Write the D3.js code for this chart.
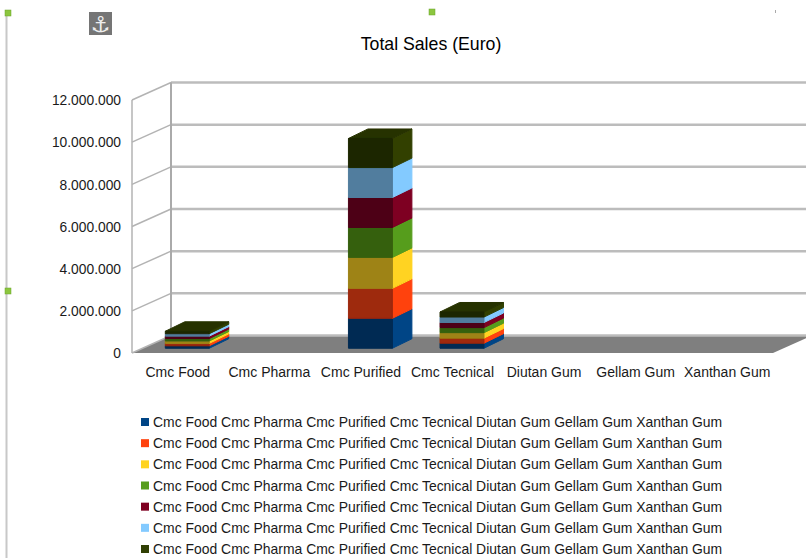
<!DOCTYPE html>
<html>
<head>
<meta charset="utf-8">
<script src="https://cdnjs.cloudflare.com/ajax/libs/d3/7.8.5/d3.min.js"></script>
<style>
html, body { margin: 0; padding: 0; background: #fff; }
text { font-family: "Liberation Sans", Arial, sans-serif; }
</style>
</head>
<body>
<div id="chart"></div>
<script>
var categories = ["Cmc Food", "Cmc Pharma", "Cmc Purified", "Cmc Tecnical", "Diutan Gum", "Gellam Gum", "Xanthan Gum"];
var series1 = [115000, 0, 1420000, 240000, 0, 0, 0];
var series2 = [115000, 0, 1420000, 240000, 0, 0, 0];
var series3 = [115000, 0, 1470000, 260000, 0, 0, 0];
var series4 = [115000, 0, 1420000, 240000, 0, 0, 0];
var series5 = [115000, 0, 1420000, 240000, 0, 0, 0];
var series6 = [115000, 0, 1420000, 260000, 0, 0, 0];
var series7 = [115000, 0, 1380000, 240000, 0, 0, 0];
var tickValues = [0, 2000000, 4000000, 6000000, 8000000, 10000000, 12000000];
var colors = ["#004586", "#ff420e", "#ffd320", "#579d1c", "#7e0021", "#83caff", "#314004"];
var allSeries = [series1, series2, series3, series4, series5, series6, series7];

var DEPTH_X = 39, DEPTH_Y = 17.5;

var svg = d3.select("#chart").append("svg")
	.attr("width", 806)
	.attr("height", 558)
	.style("display", "block");

var x = d3.scaleBand().domain(categories).range([132, 773]);
var y = d3.scaleLinear().domain([0, 12000000]).range([353, 100]);

// euro numbers use dots for thousands
var euro = d3.formatLocale({ decimal: ",", thousands: ".", grouping: [3], currency: ["", ""] }).format(",d");

function shade(c, k)
{
	var r = d3.rgb(c);
	return d3.rgb(r.r * k, r.g * k, r.b * k).formatHex();
}

var soft = svg.append("defs").append("filter").attr("id", "soft");
soft.append("feGaussianBlur").attr("stdDeviation", 0.45);

// selection frame left over from the editor
svg.append("line").attr("x1", 6.5).attr("x2", 6.5).attr("y1", 12).attr("y2", 558)
	.style("stroke", "#c8c8c8").style("stroke-width", 2);
svg.selectAll("rect.handle")
	.data([[5, 10], [429, 9], [5, 288]])
	.enter().append("rect")
	.attr("class", "handle")
	.attr("x", function(d) { return d[0]; })
	.attr("y", function(d) { return d[1]; })
	.attr("width", 6).attr("height", 6)
	.style("fill", "#8cc63f").style("stroke", "#6aa52a").style("stroke-width", 0.5);
svg.append("line").attr("x1", 775.5).attr("x2", 775.5).attr("y1", 10).attr("y2", 13)
	.style("stroke", "#aaa");
svg.append("rect").attr("x", 89).attr("y", 12).attr("width", 23).attr("height", 23)
	.style("fill", "#757575");
svg.append("text").attr("x", 100.5).attr("y", 32).attr("text-anchor", "middle")
	.style("font-family", "DejaVu Sans").style("font-size", "22px").style("fill", "#eee")
	.text("\u2693");

svg.append("text").attr("x", 431).attr("y", 50).attr("text-anchor", "middle")
	.style("font-size", "17.7px").style("fill", "#000")
	.text("Total Sales (Euro)");

// floor
svg.append("polygon")
	.attr("points", [
		[x.range()[0], y(0)],
		[x.range()[0] + DEPTH_X, y(0) - DEPTH_Y],
		[x.range()[1] + DEPTH_X, y(0) - DEPTH_Y],
		[x.range()[1], y(0)]
	].join(" "))
	.style("fill", "#7f7f7f");

// walls
var grid = svg.append("g");
grid.selectAll("line.back")
	.data(tickValues)
	.enter().append("line")
	.attr("class", "back")
	.attr("x1", x.range()[0] + DEPTH_X).attr("x2", 806)
	.attr("y1", function(d) { return y(d) - DEPTH_Y; })
	.attr("y2", function(d) { return y(d) - DEPTH_Y; })
	.style("stroke", "#bcbcbc").style("stroke-width", 2.5);
grid.selectAll("line.side")
	.data(tickValues)
	.enter().append("line")
	.attr("class", "side")
	.attr("x1", x.range()[0]).attr("x2", x.range()[0] + DEPTH_X)
	.attr("y1", function(d) { return y(d); })
	.attr("y2", function(d) { return y(d) - DEPTH_Y; })
	.style("stroke", "#b3b3b3").style("stroke-width", 1.5);
grid.append("line")
	.attr("x1", x.range()[0]).attr("x2", x.range()[0])
	.attr("y1", y(12000000)).attr("y2", y(0))
	.style("stroke", "#b3b3b3").style("stroke-width", 1.5);
grid.append("line")
	.attr("x1", x.range()[0] + DEPTH_X).attr("x2", x.range()[0] + DEPTH_X)
	.attr("y1", y(12000000) - DEPTH_Y).attr("y2", y(0) - DEPTH_Y)
	.style("stroke", "#aaa").style("stroke-width", 2);

// stacked 3d boxes
var rows = categories.map(function(c, i) {
	var row = { category: c };
	allSeries.forEach(function(s, j) { row[j] = s[i]; });
	return row;
});
var stacked = d3.stack().keys(allSeries.map(function(s, j) { return j; }))(rows);

var barW = x.bandwidth() * 0.48;
var boxDx = 19.5, boxDy = 9.5;
var offX = 9.5, offY = 4.75;

var boxes = [];
stacked.forEach(function(layer, j) {
	layer.forEach(function(d, i) {
		if (d[1] > d[0])
			boxes.push({ series: j, x0: x(categories[i]) + x.bandwidth() / 2 - barW / 2 + offX, y0: y(d[0]) - offY, y1: y(d[1]) - offY });
	});
});
boxes.sort(function(a, b) { return a.x0 - b.x0 || a.series - b.series; });

var boxLayer = svg.append("g").attr("filter", "url(#soft)");
var box = boxLayer.selectAll("g.box")
	.data(boxes)
	.enter().append("g")
	.attr("class", "box")
	.style("stroke-linejoin", "round")
	.style("stroke-width", 1);

function face(pts, k)
{
	box.append("polygon")
		.attr("points", function(d) { return pts(d).join(" "); })
		.style("fill", function(d) { return shade(colors[d.series], k); })
		.style("stroke", function(d) { return shade(colors[d.series], k); });
}
face(function(d) { return [[d.x0 + barW, d.y0], [d.x0 + barW + boxDx, d.y0 - boxDy], [d.x0 + barW + boxDx, d.y1 - boxDy], [d.x0 + barW, d.y1]]; }, 1);
face(function(d) { return [[d.x0, d.y1], [d.x0 + boxDx, d.y1 - boxDy], [d.x0 + barW + boxDx, d.y1 - boxDy], [d.x0 + barW, d.y1]]; }, 0.8);
face(function(d) { return [[d.x0, d.y0], [d.x0 + barW, d.y0], [d.x0 + barW, d.y1], [d.x0, d.y1]]; }, 0.62);

// axes
var yAxis = svg.append("g")
	.attr("transform", "translate(132,0.4)")
	.call(d3.axisLeft(y).tickValues(tickValues).tickFormat(euro).tickSize(0).tickPadding(11));
yAxis.select(".domain").remove();
yAxis.selectAll("text").style("font-size", "13.8px").style("fill", "#1a1a1a").style("font-family", "Liberation Sans");

var xAxis = svg.append("g")
	.attr("transform", "translate(0,353)")
	.call(d3.axisBottom(x).tickSize(0).tickPadding(14));
xAxis.select(".domain").remove();
xAxis.selectAll("text").style("font-size", "14px").style("fill", "#1a1a1a").style("font-family", "Liberation Sans");

// legend, every entry carries all categories
var legendY = d3.scalePoint().domain(d3.range(colors.length)).range([422, 549]);
var legend = svg.selectAll("g.legend")
	.data(colors)
	.enter().append("g")
	.attr("class", "legend")
	.attr("transform", function(d, i) { return "translate(0," + legendY(i) + ")"; });
legend.append("rect")
	.attr("x", 141).attr("y", -4).attr("width", 8).attr("height", 8)
	.style("fill", function(d) { return d; });
legend.append("text")
	.attr("x", 153).attr("y", 5)
	.style("font-size", "13.93px").style("fill", "#1a1a1a")
	.text(categories.join(" "));
</script>
</body>
</html>
